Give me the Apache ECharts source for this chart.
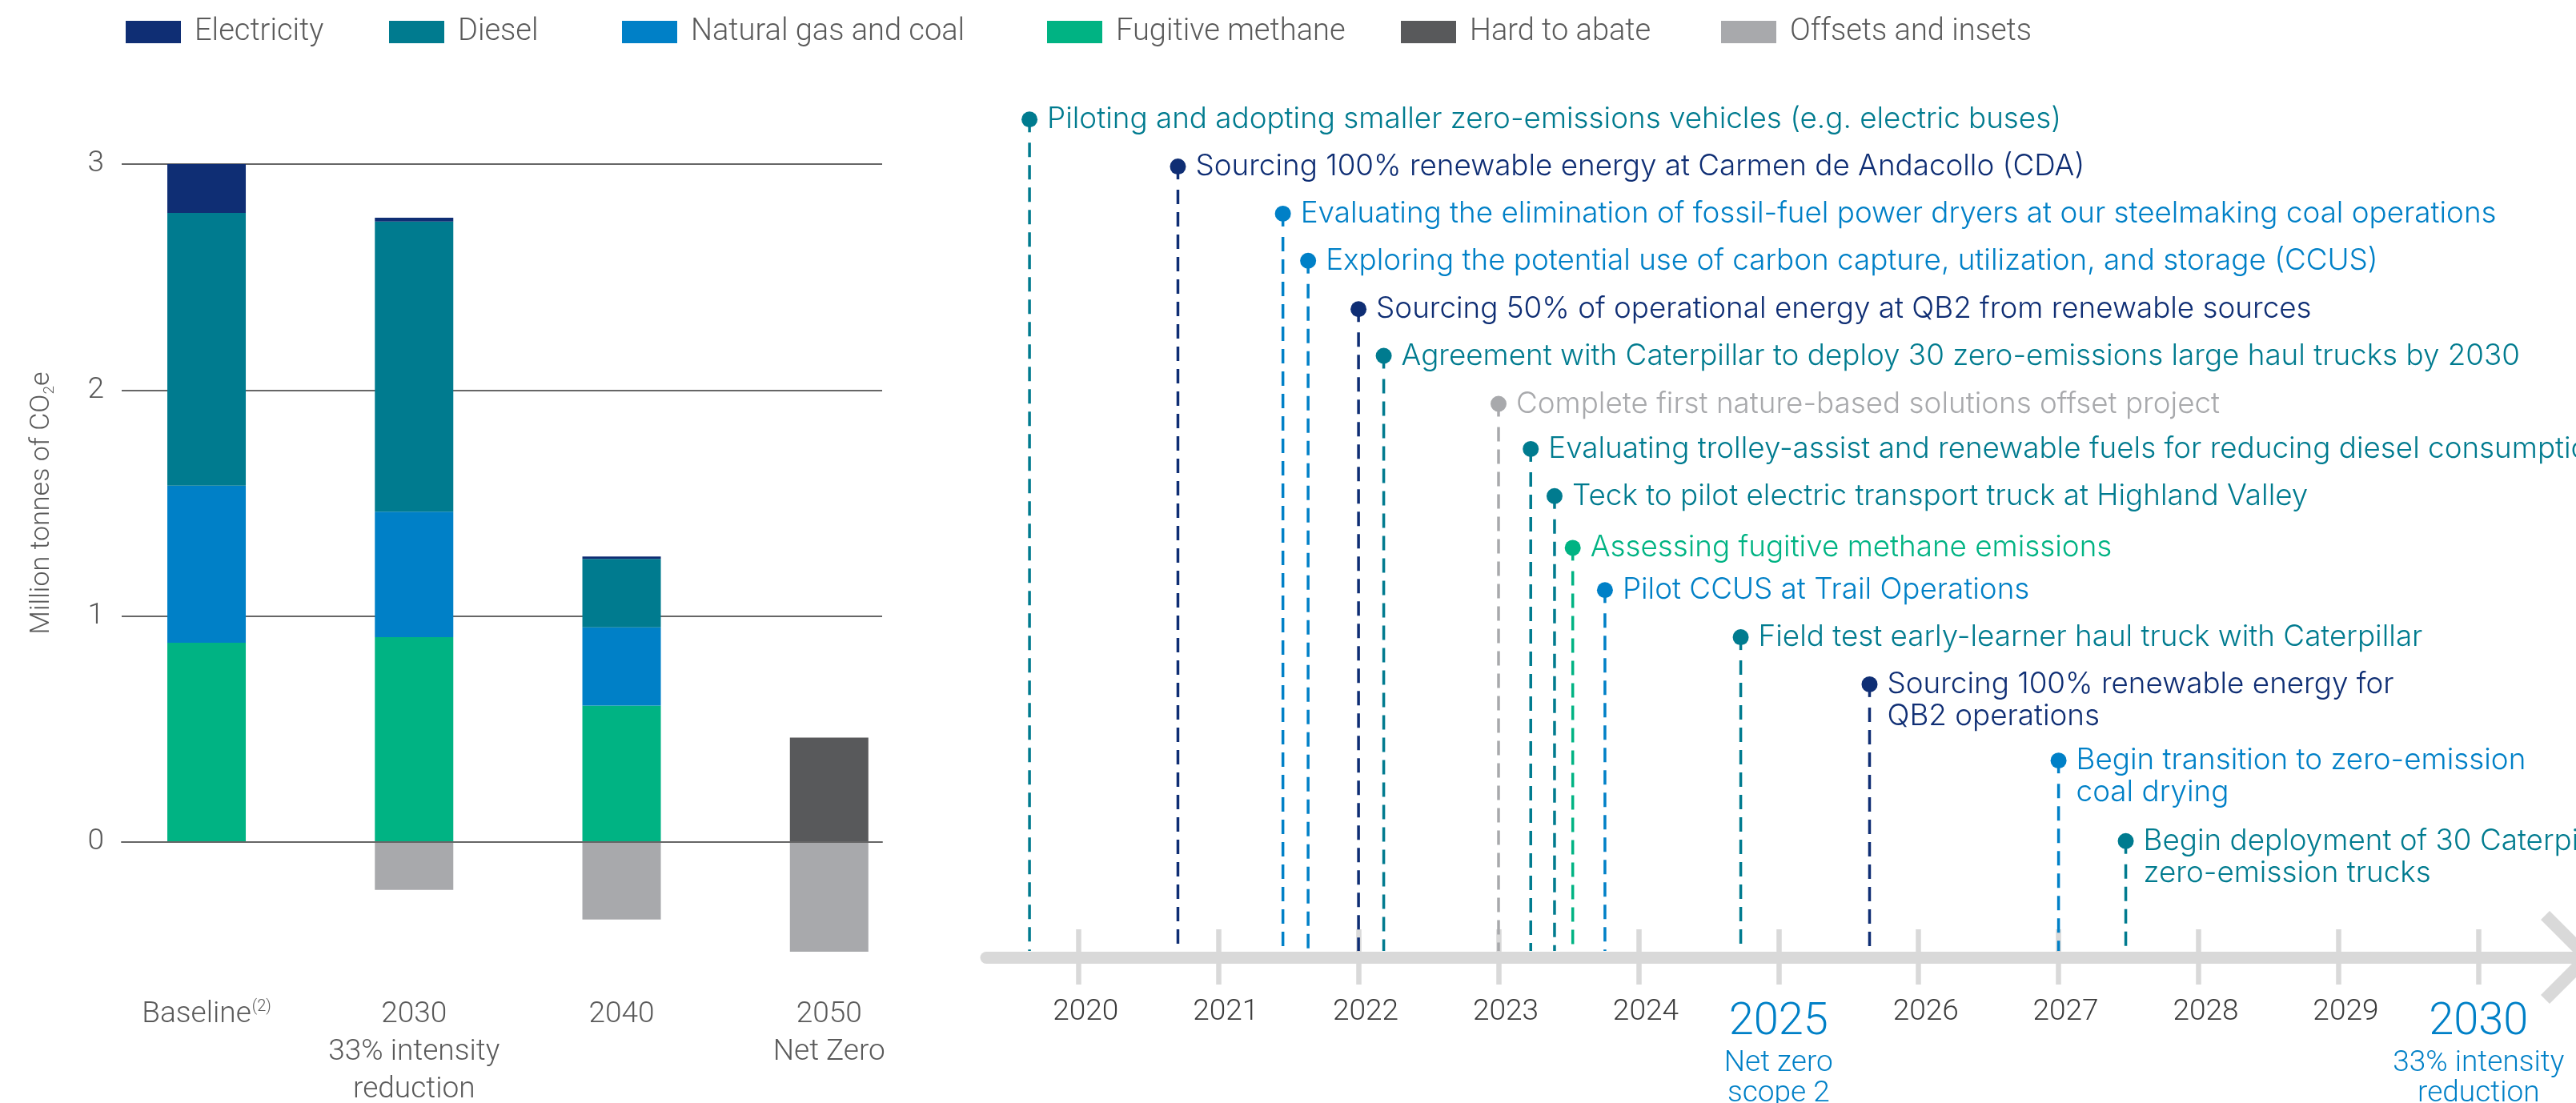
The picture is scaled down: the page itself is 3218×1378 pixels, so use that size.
<!DOCTYPE html>
<html><head><meta charset="utf-8">
<script src="https://cdn.jsdelivr.net/npm/echarts@6/dist/echarts.min.js"></script>
<style>html,body{margin:0;padding:0;background:#fff}#c{width:3218px;height:1378px}</style>
</head><body><div id="c"></div>
<script>
// ---------- data ----------
const categories = ['Baseline', '2030', '2040', '2050'];
const categoryMarks = ['(2)', '', '', ''];
const categoryNotes = ['', '33% intensity\nreduction', '', 'Net Zero'];
const electricity     = [0.216, 0.017, 0.011, 0];
const diesel          = [1.207, 1.284, 0.303, 0];
const naturalGasCoal  = [0.695, 0.555, 0.346, 0];
const fugitiveMethane = [0.882, 0.907, 0.604, 0];
const hardToAbate     = [0, 0, 0, 0.462];
const offsetsInsets   = [0, -0.212, -0.343, -0.485];
const yAxisName = ['Million tonnes of CO', '2', 'e'];

const legendNames = ['Electricity', 'Diesel', 'Natural gas and coal', 'Fugitive methane', 'Hard to abate', 'Offsets and insets'];

const timelineMilestones = { 2025: 'Net zero\nscope 2', 2030: '33% intensity\nreduction' };

const eventDates = [2019.65, 2020.71, 2021.46, 2021.64, 2022.0, 2022.18, 2023.0, 2023.23, 2023.40, 2023.53, 2023.76, 2024.73, 2025.65, 2027.0, 2027.48];
const eventRows  = [0, 1, 2, 3, 4.03, 5.02, 6.04, 7, 8, 9.1, 10, 11, 12, 13.62, 15.33];
const eventCategories = ['Diesel', 'Electricity', 'Natural gas and coal', 'Natural gas and coal', 'Electricity', 'Diesel',
  'Offsets and insets', 'Diesel', 'Diesel', 'Fugitive methane', 'Natural gas and coal', 'Diesel', 'Electricity',
  'Natural gas and coal', 'Diesel'];
const eventTexts = [
  'Piloting and adopting smaller zero-emissions vehicles (e.g. electric buses)',
  'Sourcing 100% renewable energy at Carmen de Andacollo (CDA)',
  'Evaluating the elimination of fossil-fuel power dryers at our steelmaking coal operations',
  'Exploring the potential use of carbon capture, utilization, and storage (CCUS)',
  'Sourcing 50% of operational energy at QB2 from renewable sources',
  'Agreement with Caterpillar to deploy 30 zero-emissions large haul trucks by 2030',
  'Complete first nature-based solutions offset project',
  'Evaluating trolley-assist and renewable fuels for reducing diesel consumption',
  'Teck to pilot electric transport truck at Highland Valley',
  'Assessing fugitive methane emissions',
  'Pilot CCUS at Trail Operations',
  'Field test early-learner haul truck with Caterpillar',
  'Sourcing 100% renewable energy for\nQB2 operations',
  'Begin transition to zero-emission\ncoal drying',
  'Begin deployment of 30 Caterpillar\nzero-emission trucks'
];

// ---------- styles / layout ----------
const colors = {
  'Electricity': '#0f2e74',
  'Diesel': '#007b8f',
  'Natural gas and coal': '#0080c7',
  'Fugitive methane': '#00b383',
  'Hard to abate': '#58595b',
  'Offsets and insets': '#a8a9ac'
};
const FONT = 'Roboto';
const EVENT_FONT = 'Inter';
const FW = 300;
const GREY_TXT = '#5a5a5a';
const legendLeft = [152, 481, 772, 1303, 1745, 2145];

const L = { x2020: 1347.3, perYear: 174.9, axisY: 1196, lineStart: 1232, row0: 149.3, rowStep: 58.8, W: 3218 };
const tMin = 2020 - (L.x2020 - L.lineStart) / L.perYear;
const tMax = 2020 + (L.W - L.x2020) / L.perYear;
const rowMax = (L.axisY - L.row0) / L.rowStep;

const chart = echarts.init(document.getElementById('c'), null, { renderer: 'canvas' });

function barSeries(name, data) {
  return {
    name, type: 'bar', stack: 'total', data, barWidth: 98,
    xAxisIndex: 0, yAxisIndex: 0,
    itemStyle: { color: colors[name] }, emphasis: { disabled: true }
  };
}

const chevron = 'path://M0,58 L58,0 L116,58 L105,69 L58,22 L11,69 Z';

const option = {
  backgroundColor: '#ffffff',
  animation: false,
  legend: legendNames.map((n, i) => ({
    left: legendLeft[i], top: 16, orient: 'horizontal', icon: 'rect', itemWidth: 69, itemHeight: 28,
    selectedMode: false, data: [n],
    textStyle: { color: GREY_TXT, fontSize: 38, fontFamily: FONT, fontWeight: FW, lineHeight: 38, padding: [0, 0, 0, 12] }
  })),
  grid: [
    { left: 128.4, top: 205, width: 1037, height: 1016.4, outerBoundsMode: 'none', containLabel: false },
    { left: 152, top: 205, width: 950, height: 847, outerBoundsMode: 'none', containLabel: false },
    { left: L.lineStart, top: L.row0, right: 0, height: L.axisY - L.row0, outerBoundsMode: 'none', containLabel: false },
    { left: L.x2020 - L.perYear, top: 1161, width: 12 * L.perYear, height: 69, outerBoundsMode: 'none', containLabel: false }
  ],
  xAxis: [
    {
      gridIndex: 0, type: 'category', data: categories,
      axisLine: { show: false, onZero: false }, axisTick: { show: false }, splitLine: { show: false },
      axisLabel: {
        margin: 23, interval: 0,
        formatter: (v, idx) => {
          let s = '{a|' + v + '}' + (categoryMarks[idx] ? '{sup|' + categoryMarks[idx] + '}' : '');
          if (categoryNotes[idx]) s += '\n' + categoryNotes[idx].split('\n').map(t => '{a|' + t + '}').join('\n');
          return s;
        },
        rich: {
          a: { fontSize: 37, lineHeight: 47, color: GREY_TXT, fontFamily: FONT, fontWeight: FW },
          sup: { fontSize: 20, lineHeight: 26, verticalAlign: 'top', color: GREY_TXT, fontFamily: FONT, fontWeight: FW, padding: [4, 0, 0, 1] }
        }
      }
    },
    {
      gridIndex: 1, type: 'value', min: 0, max: 1, z: 5,
      axisLine: { show: true, onZero: true, lineStyle: { color: '#666666', width: 2 } },
      axisTick: { show: false }, axisLabel: { show: false }, splitLine: { show: false }
    },
    {
      gridIndex: 2, type: 'value', min: tMin, max: tMax,
      axisLine: { show: true, onZero: false, symbol: ['none', chevron], symbolSize: [116, 69], symbolOffset: [0, -9.5],
        lineStyle: { color: '#d9d9d9', width: 15 } },
      axisTick: { show: false }, axisLabel: { show: false }, splitLine: { show: false }
    },
    {
      gridIndex: 3, type: 'value', min: 2019, max: 2031, interval: 1,
      axisLine: { show: false }, axisTick: { show: false },
      splitLine: { show: true, showMinLine: false, showMaxLine: false, lineStyle: { color: '#d9d9d9', width: 6.5 } },
      axisLabel: {
        show: true, margin: 16, showMinLabel: false, showMaxLabel: false, hideOverlap: false,
        formatter: (v) => {
          const m = timelineMilestones[v];
          if (m) return '{big|' + v + '}\n' + m.split('\n').map(t => '{sub|' + t + '}').join('\n');
          return '{yr|' + v + '}';
        },
        rich: {
          yr: { fontSize: 37, lineHeight: 37, color: '#3c3c3c', fontFamily: FONT, fontWeight: FW, padding: [0, 0, 0, 18] },
          big: { fontSize: 56, lineHeight: 64, color: colors['Natural gas and coal'], fontFamily: FONT, fontWeight: FW },
          sub: { fontSize: 37, lineHeight: 38, color: colors['Natural gas and coal'], fontFamily: FONT, fontWeight: FW }
        }
      }
    }
  ],
  yAxis: [
    { gridIndex: 0, type: 'value', min: -0.6, max: 3, show: false, splitLine: { show: false } },
    {
      gridIndex: 1, type: 'value', min: 0, max: 3, interval: 1,
      axisLine: { show: false }, axisTick: { show: false },
      axisLabel: { margin: 22, color: GREY_TXT, fontSize: 37, fontFamily: FONT, fontWeight: FW },
      splitLine: { show: true, lineStyle: { color: '#666666', width: 2 } },
      name: '{a|' + yAxisName[0] + '}{s|' + yAxisName[1] + '}{a|' + yAxisName[2] + '}',
      nameLocation: 'middle', nameRotate: 90, nameGap: 80, nameMoveOverlap: false,
      nameTextStyle: {
        rich: {
          a: { fontSize: 34, lineHeight: 40, color: GREY_TXT, fontFamily: FONT, fontWeight: FW },
          s: { fontSize: 19, lineHeight: 22, verticalAlign: 'bottom', color: GREY_TXT, fontFamily: FONT, fontWeight: FW }
        }
      }
    },
    { gridIndex: 2, type: 'value', min: 0, max: rowMax, inverse: true, show: false, splitLine: { show: false } },
    { gridIndex: 3, type: 'value', min: 0, max: 1, show: false, splitLine: { show: false } }
  ],
  series: [
    barSeries('Fugitive methane', fugitiveMethane),
    barSeries('Natural gas and coal', naturalGasCoal),
    barSeries('Diesel', diesel),
    barSeries('Electricity', electricity),
    barSeries('Hard to abate', hardToAbate),
    barSeries('Offsets and insets', offsetsInsets),
    {
      type: 'custom', xAxisIndex: 2, yAxisIndex: 2, z: 3, clip: false,
      encode: { x: 0, y: 1 },
      data: eventDates.map((d, i) => [d, eventRows[i], i]),
      renderItem: (params, api) => {
        const i = api.value(2);
        const p = api.coord([api.value(0), api.value(1)]);
        const base = api.coord([api.value(0), rowMax])[1];
        const c = colors[eventCategories[i]];
        return {
          type: 'group',
          children: [
            { type: 'line', shape: { x1: p[0], y1: p[1] + 29, x2: p[0], y2: base - 8 },
              style: { stroke: c, lineWidth: 3.5, lineDash: [18, 10] } },
            { type: 'line', shape: { x1: p[0], y1: p[1], x2: p[0], y2: p[1] + 16 },
              style: { stroke: c, lineWidth: 3.5 } },
            { type: 'circle', shape: { cx: p[0], cy: p[1], r: 10 }, style: { fill: c } },
            { type: 'text', x: p[0] + 22, y: p[1] - 20,
              style: { text: eventTexts[i], fill: c, fontSize: 36.8, fontFamily: EVENT_FONT, fontWeight: FW,
                lineHeight: 40, align: 'left', verticalAlign: 'top' } }
          ]
        };
      }
    }
  ]
};
chart.setOption(option);
</script>
</body></html>
